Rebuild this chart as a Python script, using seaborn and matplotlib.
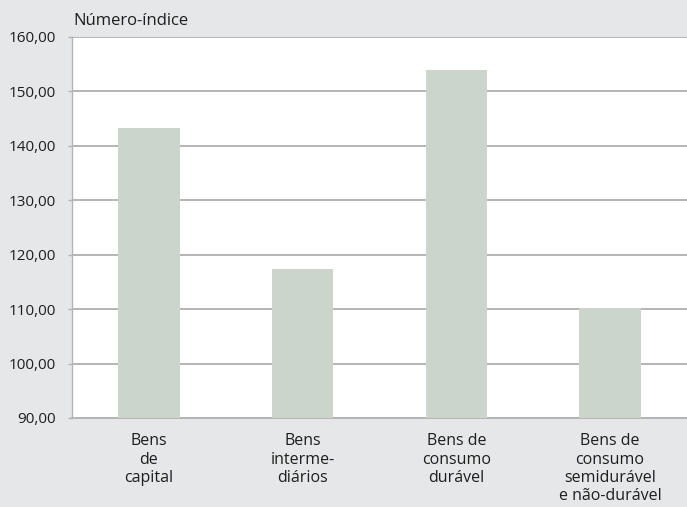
import matplotlib
matplotlib.use("Agg")
import matplotlib.pyplot as plt
import seaborn as sns
import pandas as pd
import numpy as np

categorias = ["Bens\nde\ncapital", "Bens\ninterme-\ndiários",
              "Bens de\nconsumo\ndurável", "Bens de\nconsumo\nsemidurável\ne não-durável"]
valores = [143.3, 117.4, 153.9, 110.2]
y_ticks = [90, 100, 110, 120, 130, 140, 150, 160]

sns.set_theme(style="white")
plt.rcParams["font.family"] = ["Open Sans", "DejaVu Sans"]

bg = "#e6e7e8"
bar_color = "#cbd5cb"
grid_color = "#b4b4b4"
text_color = "#1e1e1e"

fig = plt.figure(figsize=(6.87, 5.07), dpi=100, facecolor=bg)
ax = fig.add_axes([72 / 687, 1 - 418 / 507, (687 - 72) / 687, (418 - 37) / 507])
ax.set_facecolor("white")

df = pd.DataFrame({"categoria": categorias, "valor": valores})
sns.barplot(data=df, x="categoria", y="valor", color=bar_color, width=0.4,
            saturation=1, linewidth=0, edgecolor="none", ax=ax, zorder=3)

ax.set_ylim(90, 160)
ax.set_xlim(-0.5, 3.5)
ax.set_yticks(y_ticks)
ax.set_yticklabels([f"{v:.2f}".replace(".", ",") for v in y_ticks],
                   fontsize=11, color=text_color)
ax.yaxis.grid(True, color=grid_color, linewidth=1.4, zorder=0)
ax.set_axisbelow(True)

ax.set_xticks(range(len(categorias)))
ax.set_xticklabels(categorias, fontsize=11.5, color=text_color, linespacing=1.2)
ax.set_xticks(np.arange(-0.5, len(categorias), 1), minor=True)
ax.tick_params(axis="x", which="major", length=0, pad=11)
ax.tick_params(axis="x", which="minor", length=4, color=grid_color, width=1)
ax.tick_params(axis="y", length=3, color=grid_color, width=1, pad=8.5, left=True)

for side in ["top", "right"]:
    ax.spines[side].set_visible(False)
ax.spines["left"].set_color(grid_color)
ax.spines["left"].set_linewidth(1)
ax.spines["bottom"].set_color(grid_color)
ax.spines["bottom"].set_linewidth(1.4)

ax.set_xlabel("")
ax.set_ylabel("")
fig.text(73 / 687, 1 - 21 / 507, "Número-índice", fontsize=12, color=text_color,
         ha="left", va="center")

fig.savefig("out.png", dpi=100, facecolor=bg)
